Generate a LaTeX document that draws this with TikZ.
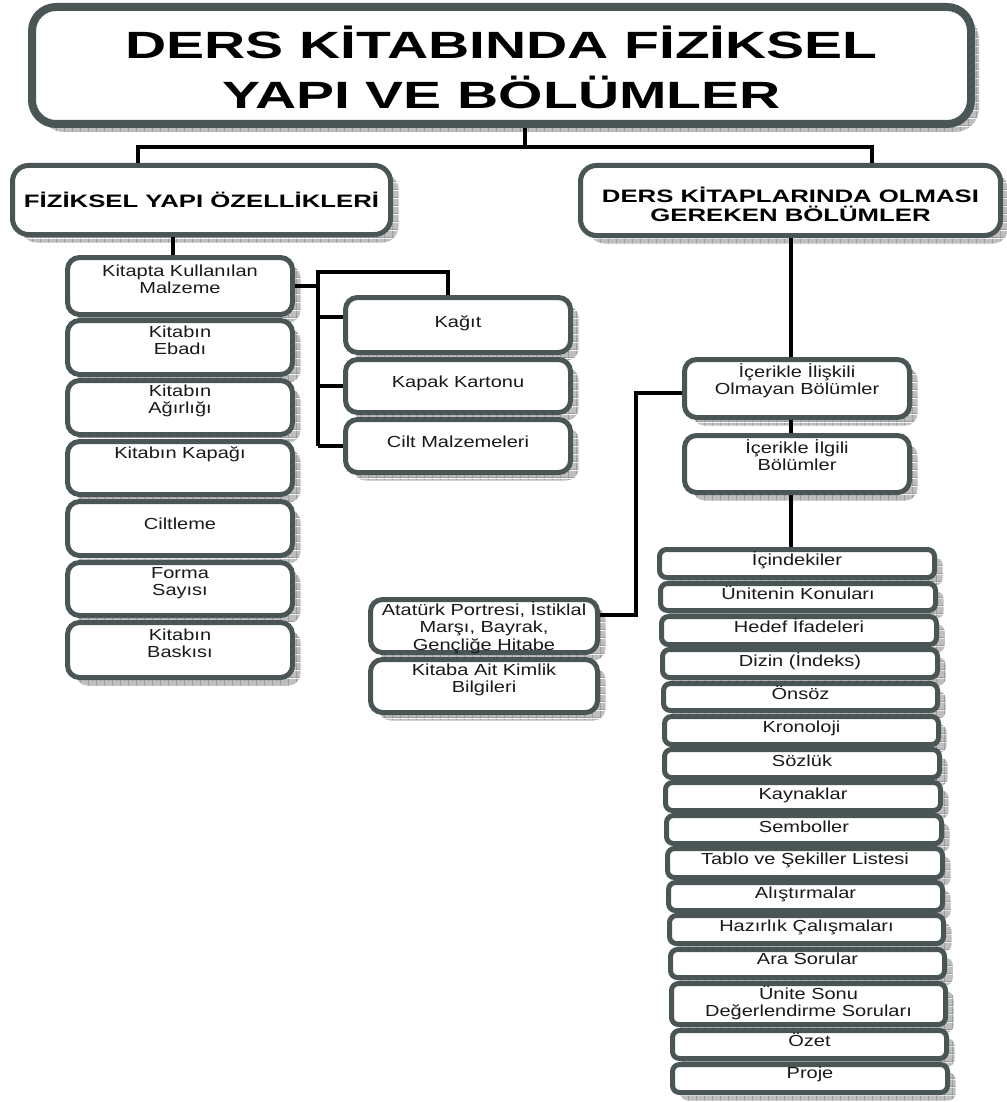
\documentclass[tikz,border=0pt]{standalone}
\usepackage{fontspec}
\setmainfont{Liberation Sans}
\newfontfamily\regf[FakeStretch=1.25]{Liberation Sans}
\newfontfamily\boldf[FakeStretch=1.43]{Liberation Sans Bold}
\newfontfamily\titlef[FakeStretch=1.5]{Liberation Sans Bold}
\usetikzlibrary{shadows,patterns.meta}
\definecolor{bord}{RGB}{74,86,86}
\definecolor{shad}{RGB}{190,190,190}
\definecolor{shadl}{RGB}{140,140,140}
\tikzdeclarepattern{name=shgrid,type=colored,bottom left={(0pt,0pt)},top right={(8pt,8pt)},tile size={(8pt,8pt)},
  code={\fill[shad] (0pt,0pt) rectangle (8pt,8pt);
        \draw[shadl,line width=0.8pt] (0pt,0.4pt) -- (8pt,0.4pt) (0.4pt,0pt) -- (0.4pt,8pt);}}
\newcommand\sr[1]{\rule{0pt}{#1}}
\tikzset{
  shd/.style={drop shadow={shadow xshift=8pt,shadow yshift=-8pt,pattern=shgrid,opacity=1}},
  bx/.style={draw=bord,fill=white,line width=5pt,inner sep=0pt,shd},
  bxL/.style={bx,rounded corners=12pt},
  bxS/.style={bx,rounded corners=7pt},
  bxH/.style={bx,rounded corners=16pt},
  rt/.style={font=\regf\fontsize{16}{17.5}\selectfont,align=center,inner sep=0pt,anchor=north,text=black!90},
  ht/.style={font=\boldf\fontsize{18}{19}\selectfont,align=center,inner sep=0pt,anchor=north},
  tt/.style={font=\titlef\fontsize{38}{50}\selectfont,align=center,inner sep=0pt,anchor=north},
  con/.style={draw=black,line width=4pt},
}
\newcommand\mkbox[8]{%
  \node[#1,minimum width={(#5-#3-5)*1pt},minimum height={(#6-#4-5)*1pt}] (#2) at ({(#3+#5)/2},{(#4+#6)/2}) {};
  \node[rt] (#2t) at ({(#3+#5)/2},{#7-15.5}) {\sr{15.5pt}#8};}
\begin{document}
\begin{tikzpicture}[x=1pt,y=-1pt]
\useasboundingbox (0,0) rectangle (1006,1102);
\fill[white] (0,0) rectangle (1006,1102);
% title
\node[bx,line width=8pt,rounded corners=24pt,minimum width=939pt,minimum height=117pt] (title) at (501.5,65.5) {};
\node[tt] (titlet) at (501.5,22) {\sr{36pt}DERS KİTABINDA FİZİKSEL\\YAPI VE BÖLÜMLER};
% headers
\node[bxH,minimum width=378pt,minimum height=69pt] (lh) at (201.5,200) {};
\node[ht] (lht) at (201.5,190) {\sr{17pt}FİZİKSEL YAPI ÖZELLİKLERİ};
\node[bxH,minimum width=420pt,minimum height=70pt] (rh) at (790.5,200.5) {};
\node[ht] (rht) at (790.5,185) {\sr{17pt}DERS KİTAPLARINDA OLMASI\\GEREKEN BÖLÜMLER};
% left column
\mkbox{bxL}{m1}{65}{255}{295}{317}{276}{Kitapta Kullanılan\\Malzeme}
\mkbox{bxL}{m2}{65}{318}{295}{377}{337}{Kitabın\\Ebadı}
\mkbox{bxL}{m3}{65}{378}{295}{437}{396}{Kitabın\\Ağırlığı}
\mkbox{bxL}{m4}{65}{439}{295}{497}{458}{Kitabın Kapağı}
\mkbox{bxL}{m5}{65}{499}{295}{558}{529}{Ciltleme}
\mkbox{bxL}{m6}{65}{560}{295}{618}{578}{Forma\\Sayısı}
\mkbox{bxL}{m7}{65}{620}{295}{680}{640}{Kitabın\\Baskısı}
% materials
\mkbox{bxL}{kag}{343}{295}{573}{355}{327}{Kağıt}
\mkbox{bxL}{kap}{343}{357}{573}{415}{387}{Kapak Kartonu}
\mkbox{bxL}{cil}{343}{417}{573}{475}{447}{Cilt Malzemeleri}
% right branch
\mkbox{bxL}{olm}{682}{357}{912}{420}{377}{İçerikle İlişkili\\Olmayan Bölümler}
\mkbox{bxL}{ilg}{682}{433}{912}{495}{453}{İçerikle İlgili\\Bölümler}
\mkbox{bxL}{ata}{368}{597}{600}{655}{615}{Atatürk Portresi, İstiklal\\Marşı, Bayrak,\\Gençliğe Hitabe}
\mkbox{bxL}{kim}{368}{657}{600}{715}{675}{Kitaba Ait Kimlik\\Bilgileri}
% list
\mkbox{bxS}{l1}{657}{547}{937}{580}{565}{İçindekiler}
\mkbox{bxS}{l2}{658}{581}{938}{613}{599}{Ünitenin Konuları}
\mkbox{bxS}{l3}{659}{614}{939}{647}{632}{Hedef İfadeleri}
\mkbox{bxS}{l4}{660}{647}{940}{680}{666}{Dizin (İndeks)}
\mkbox{bxS}{l5}{661}{681}{940}{713}{699}{Önsöz}
\mkbox{bxS}{l6}{662}{714}{941}{747}{732}{Kronoloji}
\mkbox{bxS}{l7}{662}{747}{942}{780}{766}{Sözlük}
\mkbox{bxS}{l8}{663}{780}{943}{813}{799}{Kaynaklar}
\mkbox{bxS}{l9}{664}{813}{944}{846}{832}{Semboller}
\mkbox{bxS}{l10}{665}{846}{945}{880}{864}{Tablo ve Şekiller Listesi}
\mkbox{bxS}{l11}{666}{880}{945}{913}{898}{Alıştırmalar}
\mkbox{bxS}{l12}{667}{913}{946}{946}{931}{Hazırlık Çalışmaları}
\mkbox{bxS}{l13}{668}{947}{947}{980}{964}{Ara Sorular}
\mkbox{bxS}{l14}{669}{981}{948}{1027}{999}{Ünite Sonu\\Değerlendirme Soruları}
\mkbox{bxS}{l15}{670}{1028}{949}{1061}{1046}{Özet}
\mkbox{bxS}{l16}{670}{1062}{950}{1095}{1078}{Proje}
% connectors
\coordinate (tj) at (525,147);
\coordinate (lj) at (138,147);
\coordinate (rj) at (872,147);
\draw[con] (tj |- title.south) -- (tj);
\draw[con] (lj |- lh.north) -- (lj) -- (rj) -- (rj |- rh.north);
\coordinate (lk) at (173,0);
\draw[con] (lk |- lh.south) -- (lk |- m1.north);
\coordinate (mx) at (318,272);
\coordinate (mk) at (448,272);
\coordinate (kb) at (318,317);
\draw[con] (m1.east) -- (m1.east -| mx);
\draw[con] (mx |- cil.west) -- (mx) -- (mk) -- (mk |- kag.north);
\draw[con] (kb) -- (kb -| kag.west);
\draw[con] (mx |- kap.west) -- (kap.west);
\draw[con] (mx |- cil.west) -- (cil.west);
\coordinate (rx) at (791,0);
\draw[con] (rx |- rh.south) -- (rx |- olm.north);
\draw[con] (rx |- olm.south) -- (rx |- ilg.north);
\draw[con] (rx |- ilg.south) -- (rx |- l1.north);
\coordinate (ax) at (636,393);
\coordinate (ay) at (636,615);
\draw[con] (ax -| olm.west) -- (ax) -- (ay) -- (ay -| ata.east);
\end{tikzpicture}
\end{document}
